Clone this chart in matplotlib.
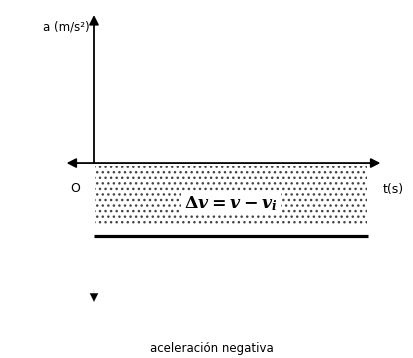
#!/usr/bin/env python3
"""Acceleration-time sketch for negative acceleration."""

import matplotlib
matplotlib.use("Agg")
import matplotlib.pyplot as plt
from matplotlib.patches import Rectangle

# data
t_interval = [0.0, 10.0]          # time span of the shaded area
accel = -3.0                      # constant (negative) acceleration
shade_depth = -2.55               # lower edge of the stippled area
t_axis = [-1.0, 10.45]            # horizontal axis extent
a_axis_top = 6.08                 # tip of vertical axis
a_down_tip = -5.5                 # lone downward arrowhead
axis_label_a = "a (m/s²)"
axis_label_t = "t(s)"
origin_label = "O"
area_label = r"$\Delta v = v - v_i$"
caption = "aceleración negativa"

plt.rcParams["mathtext.fontset"] = "custom"
plt.rcParams["mathtext.rm"] = "DejaVu Serif:bold"
plt.rcParams["mathtext.it"] = "DejaVu Serif:italic:bold"
plt.rcParams["hatch.linewidth"] = 1.0

fig = plt.figure(figsize=(4.13, 3.58), dpi=100)
ax = fig.add_axes([0, 0, 1, 1])
ax.set_xlim(-3.43, 11.64)
ax.set_ylim(-8.01, 6.7)
ax.axis("off")

arrow = dict(arrowstyle="-|>,head_length=0.55,head_width=0.28",
             color="black", lw=1.3, shrinkA=0, shrinkB=0)

# stippled area
ax.add_patch(Rectangle((t_interval[0] + 0.05, shade_depth),
                       t_interval[1] - t_interval[0] - 0.1, -shade_depth - 0.12,
                       facecolor="white", edgecolor="#444444", hatch="...",
                       linewidth=0))

# axes
ax.annotate("", xy=(0, a_axis_top), xytext=(0, 0), arrowprops=arrow)
ax.annotate("", xy=(t_axis[1], 0), xytext=(0, 0), arrowprops=arrow)
ax.annotate("", xy=(t_axis[0], 0), xytext=(0, 0), arrowprops=arrow)
ax.annotate("", xy=(0, a_down_tip - 0.2), xytext=(0, a_down_tip + 0.3),
            arrowprops=dict(arrowstyle="-|>,head_length=0.6,head_width=0.3",
                            color="black", lw=0.1, shrinkA=0, shrinkB=0))

# acceleration line
ax.plot(t_interval, [accel, accel], color="black", lw=2.3,
        solid_capstyle="butt")

ax.text(-0.15, a_axis_top - 0.5, axis_label_a, ha="right", va="center",
        fontsize=8.5)
ax.text(t_axis[1] + 0.1, -1.1, axis_label_t, ha="left", va="center",
        fontsize=9)
ax.text(-0.7, -1.05, origin_label, ha="center", va="center", fontsize=9)
ax.text(5.0, -1.65, area_label, ha="center", va="center", fontsize=12.5,
        bbox=dict(facecolor="white", edgecolor="none", pad=2))
ax.text(4.3, -7.6, caption, ha="center", va="center", fontsize=8.5)

fig.savefig("out.png", dpi=100)
